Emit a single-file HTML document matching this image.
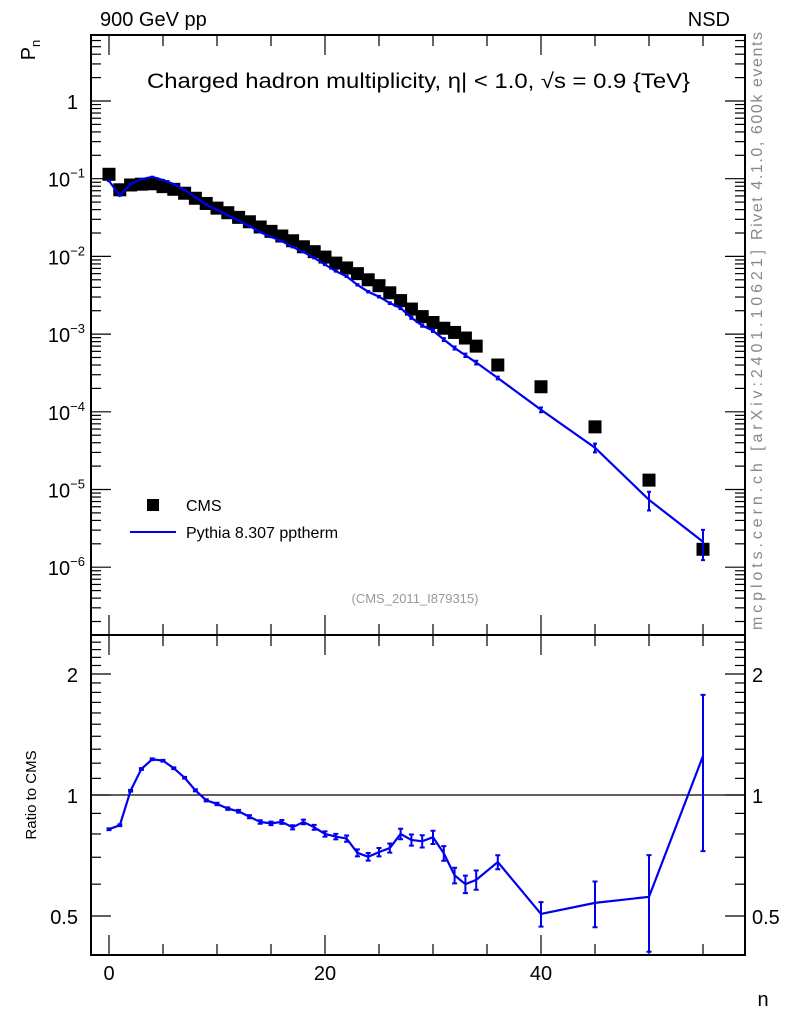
<!DOCTYPE html>
<html><head><meta charset="utf-8"><style>
html,body{margin:0;padding:0;background:#fff;}
svg{display:block;font-family:"Liberation Sans",sans-serif;}
</style></head><body>
<svg id="chart" width="786" height="1024" viewBox="0 0 786 1024" xmlns="http://www.w3.org/2000/svg">
<text x="100" y="26" font-size="20">900 GeV pp</text>
<text x="730" y="26" font-size="20" text-anchor="end">NSD</text>
<text x="147" y="88" font-size="21" textLength="543" lengthAdjust="spacingAndGlyphs">Charged hadron multiplicity, η| &lt; 1.0, √s = 0.9 {TeV}</text>
<text transform="translate(35,50) rotate(-90)" font-size="20" text-anchor="middle">P<tspan font-size="13" dy="5">n</tspan></text>
<text transform="translate(36,795) rotate(-90)" font-size="15" text-anchor="middle">Ratio to CMS</text>
<text x="763" y="1006" font-size="20" text-anchor="middle">n</text>
<text transform="translate(762,240) rotate(-90)" font-size="16" fill="#888" textLength="208" lengthAdjust="spacing">Rivet 4.1.0,  600k events</text>
<text transform="translate(762,630) rotate(-90)" font-size="16" fill="#888" textLength="380" lengthAdjust="spacing">mcplots.cern.ch [arXiv:2401.10621]</text>
<text x="415" y="603" font-size="13" fill="#999" text-anchor="middle">(CMS_2011_I879315)</text>
<g id="main"></g>
<g id="ratio"></g>
<g>
<rect x="147" y="499" width="12" height="12" fill="#000"/>
<text x="186" y="511" font-size="16">CMS</text>
<line x1="130" y1="532" x2="176" y2="532" stroke="#0000ee" stroke-width="2"/>
<text x="186" y="538" font-size="16">Pythia 8.307 pptherm</text>
</g>
</svg>
<script>
const nVals=[0,1,2,3,4,5,6,7,8,9,10,11,12,13,14,15,16,17,18,19,20,21,22,23,24,25,26,27,28,29,30,31,32,33,34,36,40,45,50,55];
const cmsVals=[0.114,0.072,0.083,0.085,0.086,0.079,0.073,0.065,0.056,0.048,0.0418,0.0365,0.0318,0.0279,0.0239,0.021,0.0183,0.0159,0.0133,0.0115,0.0098,0.0082,0.0071,0.0060,0.0050,0.0042,0.0034,0.0027,0.0021,0.00168,0.00141,0.00119,0.00105,0.00089,0.00070,0.00040,0.00021,0.000064,0.0000132,0.0000017];
const ratioVals=[0.822,0.841,1.025,1.161,1.227,1.217,1.166,1.104,1.027,0.970,0.950,0.925,0.911,0.883,0.857,0.850,0.857,0.831,0.857,0.831,0.800,0.788,0.779,0.718,0.702,0.721,0.738,0.800,0.773,0.767,0.785,0.716,0.631,0.600,0.615,0.681,0.506,0.539,0.558,1.25];
const ratioErr=[0.005,0.005,0.005,0.005,0.005,0.005,0.005,0.005,0.006,0.006,0.007,0.007,0.008,0.009,0.01,0.01,0.011,0.012,0.013,0.014,0.015,0.016,0.018,0.02,0.022,0.024,0.026,0.03,0.032,0.035,0.038,0.042,0.045,0.05,0.055,0.04,0.07,0.13,0.27,0.42];
const mainTickLabels=["1","10","10","10","10","10","10"];
const mainTickExp=[0,-1,-2,-3,-4,-5,-6];
const xTicks=[0,20,40];
const ratioTicks=[2,1,0.5];
const NS="http://www.w3.org/2000/svg";
const L=91,R=745,MT=35,MB=635,RB=955;
const X=n=>109+n*10.8;
const Y=p=>101-77.7*Math.log10(p);
const YR=r=>795-121*Math.log2(r);
function mk(tag,attrs,parent){const e=document.createElementNS(NS,tag);for(const k in attrs)e.setAttribute(k,attrs[k]);parent.appendChild(e);return e;}
const main=document.getElementById('main'),ratio=document.getElementById('ratio');
let f=mk('rect',{x:L,y:MT,width:R-L,height:MB-MT,fill:'none',stroke:'#000','stroke-width':2},main);


f=mk('rect',{x:L,y:MB,width:R-L,height:RB-MB,fill:'none',stroke:'#000','stroke-width':2},ratio);


for(let v=0;v<=55;v+=5){const major=xTicks.includes(v);const len=major?20:11;
 [[MT,MT+len],[MB,MB-len],[MB,MB+len],[RB,RB-len]].forEach(([a,b])=>{const t=mk('line',{x1:X(v),x2:X(v),y1:a,y2:b,stroke:'#000','stroke-width':1.2},main);
 
 });}
xTicks.forEach(v=>{const t=mk('text',{x:X(v),y:980,'font-size':20,'text-anchor':'middle'},ratio);t.textContent=v;
 
 });
for(let e=-7;e<=0;e++){for(let m=1;m<=9;m++){const p=m*Math.pow(10,e);const y=Y(p);if(y<MT||y>MB)continue;const len=m==1?20:10;
 [[L,L+len],[R,R-len]].forEach(([a,b])=>{const t=mk('line',{x1:a,x2:b,y1:y,y2:y,stroke:'#000','stroke-width':1.2},main);
 
 });}}
mainTickExp.forEach((e,i)=>{const y=Y(Math.pow(10,e));const t=mk('text',{x:e==0?78:85,y:y+8,'font-size':20,'text-anchor':'end'},main);
 
 
 t.textContent=mainTickLabels[i];
 if(e!=0){const s=mk('tspan',{'font-size':13,dy:-9},t);s.textContent=String(e).replace('-','−');}});
for(let k=0.4;k<=2.5;k+=0.1){const r=Math.round(k*10)/10;const y=YR(r);if(y<MB||y>RB)continue;const major=ratioTicks.includes(r);const len=major?20:10;
 [[L,L+len],[R,R-len]].forEach(([a,b])=>{const t=mk('line',{x1:a,x2:b,y1:y,y2:y,stroke:'#000','stroke-width':1.2},ratio);
 
 });}
ratioTicks.forEach(r=>{[[78,'end'],[752,'start']].forEach(([x,a])=>{const t=mk('text',{x:x,y:YR(r)+8,'font-size':20,'text-anchor':a},ratio);t.textContent=r;
 
 });});
let ref=mk('line',{x1:L,x2:R,y1:YR(1),y2:YR(1),stroke:'#000','stroke-width':1.2},ratio);


nVals.forEach((n,i)=>{const r=mk('rect',{x:X(n)-6.5,y:Y(cmsVals[i])-6.5,width:13,height:13,fill:'#000'},main);
 
 });
const pyVals=cmsVals.map((c,i)=>c*ratioVals[i]);
let pl=mk('polyline',{points:nVals.map((n,i)=>X(n)+','+Y(pyVals[i])).join(' '),fill:'none',stroke:'#0000ee','stroke-width':2.2},main);


nVals.forEach((n,i)=>{const p=pyVals[i],e=ratioErr[i];const y1=Y(p*(1+e)),y2=Y(Math.max(p*(1-e),1e-9));
 const g=mk('path',{d:`M${X(n)},${y1}V${y2}M${X(n)-2},${y1}h4M${X(n)-2},${y2}h4`,stroke:'#0000ee','stroke-width':2,fill:'none'},main);
 
 });
let rl=mk('polyline',{points:nVals.map((n,i)=>X(n)+','+YR(ratioVals[i])).join(' '),fill:'none',stroke:'#0000ee','stroke-width':2.2},ratio);


nVals.forEach((n,i)=>{const r=ratioVals[i],e=ratioErr[i];const y1=YR(r*(1+e)),y2=YR(r*(1-e));
 const g=mk('path',{d:`M${X(n)},${y1}V${y2}M${X(n)-2.5},${y1}h5M${X(n)-2.5},${y2}h5`,stroke:'#0000ee','stroke-width':2,fill:'none'},ratio);
 
 });
</script>
</body></html>
